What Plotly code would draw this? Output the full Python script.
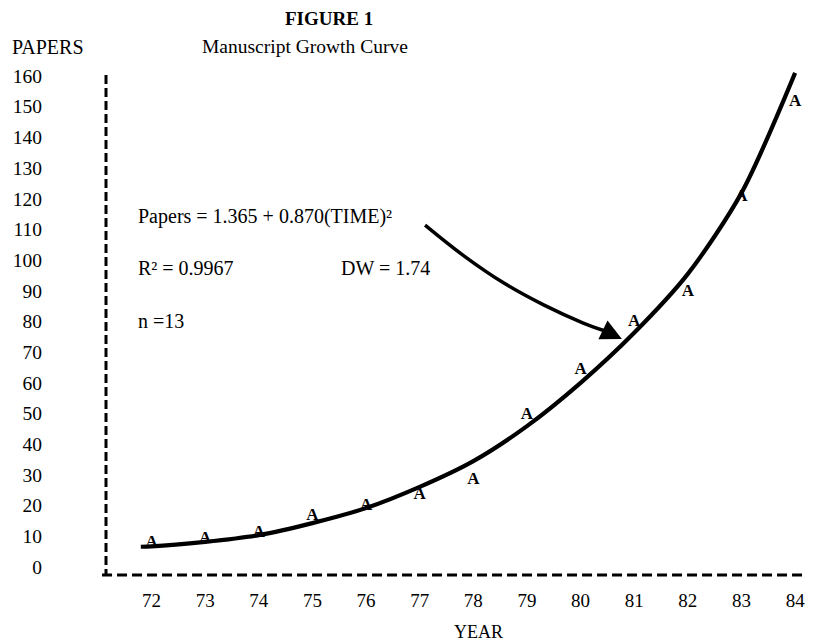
import plotly.graph_objects as go

# ---- data ----
years = [72, 73, 74, 75, 76, 77, 78, 79, 80, 81, 82, 83, 84]
papers = [7.9, 9.1, 11.1, 16.6, 19.9, 23.5, 28.3, 49.5, 64.2, 79.9, 89.7, 120.7, 151.6]

# fitted growth curve
curve_years = [71.8, 72, 73, 74, 75, 76, 77, 78, 79, 80, 81, 82, 83, 84]
curve_values = [6.6, 6.7, 8.2, 10.4, 14.3, 19.2, 26.1, 34.5, 45.9, 60.0,
                76.3, 95.5, 121.9, 161.0]

# pointer arrow from the equation to the curve
arrow_years = [77.10, 77.83, 78.57, 79.31, 80.05, 80.46]
arrow_values = [111.4, 101.3, 92.5, 85.4, 79.5, 76.9]
arrow_tip = (80.77, 74.3)

y_ticks = list(range(0, 161, 10))
x_ticks = years
x_tick_labels = [str(y) for y in years]

FONT = "Liberation Serif"

# the page body adds an 8px margin: the figure is shifted by that much
OFFX, OFFY = 10, 8
W, H = 813 - 8, 641 - 8
ML, MR, MT, MB = 101 - OFFX, 5, 70 - OFFY, 66
PW, PH = W - ML - MR, H - MT - MB


def px(x):
    return (x - OFFX - ML) / PW


def py(y):
    return (H - MB - (y - OFFY)) / PH


fig = go.Figure()

fig.add_trace(go.Scatter(
    x=curve_years, y=curve_values, mode="lines",
    line=dict(color="black", width=4.2, shape="spline", smoothing=0.8),
    hoverinfo="skip", showlegend=False))

fig.add_trace(go.Scatter(
    x=years, y=papers, mode="text", text=["A"] * len(years),
    textposition="middle center",
    textfont=dict(family=FONT, size=17, color="black", weight="bold"),
    showlegend=False))

fig.add_trace(go.Scatter(
    x=arrow_years, y=arrow_values, mode="lines",
    line=dict(color="black", width=3.5, shape="spline"),
    hoverinfo="skip", showlegend=False))

fig.add_annotation(
    x=arrow_tip[0], y=arrow_tip[1], ax=arrow_years[-1], ay=arrow_values[-1],
    xref="x", yref="y", axref="x", ayref="y", text="", showarrow=True,
    arrowhead=2, arrowsize=1.2, arrowwidth=3.5, arrowcolor="black")

# dashed axes
fig.add_shape(type="line", xref="paper", yref="paper", x0=px(101), x1=px(101),
              y0=py(75), y1=py(575), line=dict(color="black", width=3, dash="9px,4px"))
fig.add_shape(type="line", xref="paper", yref="paper", x0=px(97), x1=px(815),
              y0=py(575), y1=py(575), line=dict(color="black", width=3, dash="10px,5px"))

txt = dict(family=FONT, size=20, color="black")


def note(text, x, y, xanchor="left", font=txt):
    fig.add_annotation(text=text, x=px(x), y=py(y), xref="paper", yref="paper",
                       xanchor=xanchor, yanchor="middle", showarrow=False, font=font)


note("<b>FIGURE 1</b>", 326, 19, "center", dict(family=FONT, size=19, color="black"))
note("Manuscript Growth Curve", 302, 47, "center", dict(family=FONT, size=19.5, color="black"))
note("PAPERS", 4, 47)
note("YEAR", 477, 632, "center", dict(family=FONT, size=18, color="black"))
note("Papers = 1.365 + 0.870(TIME)²", 131, 216)
note("R² = 0.9967", 131, 268)
note("DW = 1.74", 336, 268)
note("n =13", 131, 321)

fig.update_layout(
    width=W, height=H,
    margin=dict(l=ML, r=MR, t=MT, b=MB),
    paper_bgcolor="white", plot_bgcolor="white",
    font=dict(family=FONT, size=19, color="black"),
    xaxis=dict(range=[71.151, 84.24], tickvals=x_ticks, ticktext=x_tick_labels,
               showgrid=False, zeroline=False, showline=False, ticks="",
               ticklabelstandoff=12, tickfont=dict(family=FONT, size=19)),
    yaxis=dict(range=[-2.607, 161.94], tickvals=y_ticks,
               showgrid=False, zeroline=False, showline=False, ticks="",
               ticklabelstandoff=63, tickfont=dict(family=FONT, size=19.5)),
)

fig.write_html("out.html")
